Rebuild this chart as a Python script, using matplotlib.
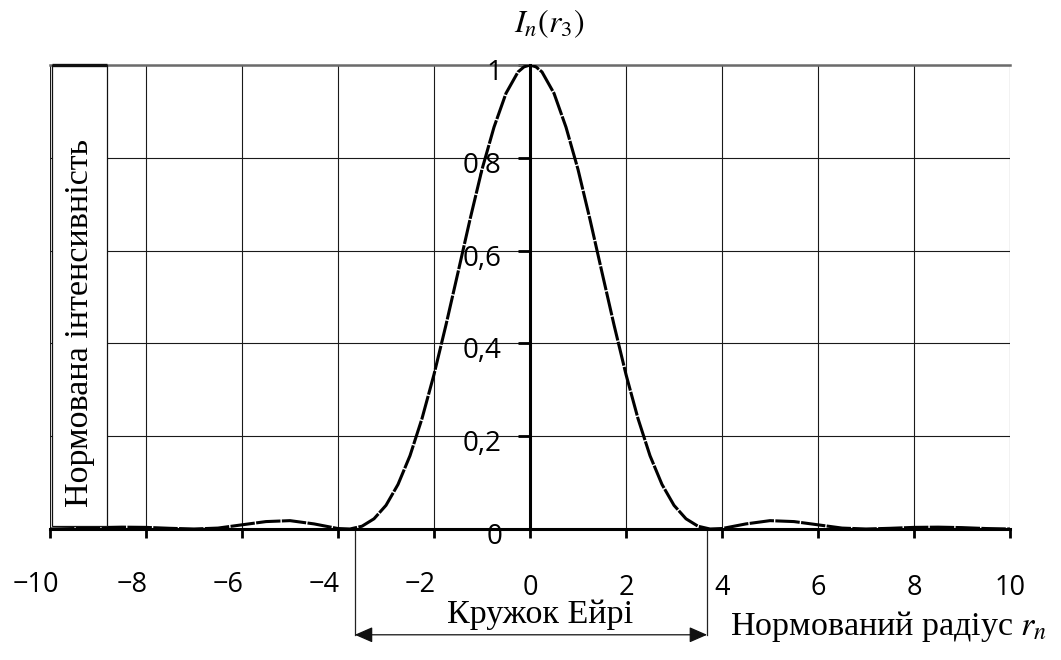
import matplotlib
matplotlib.use("Agg")
import matplotlib.pyplot as plt
from matplotlib.patches import Rectangle

plt.rcParams['mathtext.fontset'] = 'stix'

# ---- data ----
radius = [-10, -9.5, -9, -8.5, -8, -7.5, -7, -6.5, -6, -5.5, -5, -4.5, -4,
          -3.75, -3.5, -3.25, -3, -2.75, -2.5, -2.25, -2, -1.75, -1.5, -1.25,
          -1, -0.75, -0.5, -0.25, -0.125, 0,
          0.125, 0.25, 0.5, 0.75, 1, 1.25, 1.5, 1.75, 2, 2.25, 2.5, 2.75, 3,
          3.25, 3.5, 3.75, 4, 4.5, 5, 5.5, 6, 6.5, 7, 7.5, 8, 8.5, 9, 9.5, 10]
intensity = [0.000, 0.001, 0.003, 0.004, 0.0035, 0.0015, 0.000, 0.002, 0.009,
             0.016, 0.018, 0.011, 0.001,
             0.000, 0.006, 0.022, 0.051, 0.096, 0.158, 0.238, 0.333, 0.440,
             0.553, 0.667, 0.775, 0.866, 0.939, 0.985, 0.996, 1.000,
             0.996, 0.985, 0.939, 0.866, 0.775, 0.667, 0.553, 0.440, 0.333,
             0.238, 0.158, 0.096, 0.051,
             0.022, 0.006, 0.000, 0.001, 0.011, 0.018, 0.016, 0.009, 0.002,
             0.000, 0.0015, 0.0035, 0.004, 0.003, 0.001, 0.000]

x_ticks = [-10, -8, -6, -4, -2, 0, 2, 4, 6, 8, 10]
x_tick_labels = ['\u221210', '\u22128', '\u22126', '\u22124', '\u22122', '0',
                 '2', '4', '6', '8', '10']
y_ticks = [0, 0.2, 0.4, 0.6, 0.8, 1.0]
y_tick_labels = ['0', '0,2', '0,4', '0,6', '0,8', '1']

airy_left, airy_right = -3.65, 3.69

y_title = 'Нормована інтенсивність'
x_title = 'Нормований радіус $r_n$'
top_title = r'$I_n(r_3)$'
airy_label = 'Кружок Ейрі'

# ---- figure ----
W, H = 1061, 660
fig = plt.figure(figsize=(W / 100, H / 100), dpi=100)
ax = fig.add_axes([50 / W, 131 / H, 960 / W, 464 / H])
ax.set_xlim(-10, 10)
ax.set_ylim(0, 1)

ax.set_xticks(x_ticks)
ax.set_yticks(y_ticks)
ax.set_xticklabels([])
ax.set_yticklabels([])
ax.grid(True, color='#1a1a1a', linewidth=0.8, zorder=0)
ax.set_axisbelow(True)

for s in ['top', 'right']:
    ax.spines[s].set_visible(False)
ax.spines['left'].set_position(('data', 0))
ax.spines['left'].set_linewidth(2.2)
ax.spines['bottom'].set_linewidth(2.2)
ax.spines['left'].set_zorder(4)
ax.spines['bottom'].set_zorder(4)
ax.tick_params(axis='x', direction='out', length=6.5, width=2.0, color='black')
ax.tick_params(axis='y', direction='out', length=8.5, width=2.0, color='black')

# top border (grey, thicker)
ax.axhline(1.0, color='#6b6b6b', linewidth=1.8, zorder=1, clip_on=False)

# curve
ax.plot(radius, intensity, color='black', linewidth=2.2,
        linestyle=(0, (8, 0.45)), zorder=3, solid_capstyle='butt',
        solid_joinstyle='round', dash_joinstyle='round')

# y-title box (covers grid)
box_left, box_right = -9.96, -8.81
ax.add_patch(Rectangle((box_left, 0.007), box_right - box_left, 0.993,
                       facecolor='white', edgecolor='#111111', linewidth=0.9,
                       zorder=3.5, clip_on=False))
ax.plot([box_left, box_right], [1.0, 1.0], color='#111111', linewidth=2.4,
        zorder=3.6, clip_on=False, solid_capstyle='butt')
ax.text((box_left + box_right) / 2, 0.443, y_title, rotation=90,
        ha='center', va='center', fontsize=24.5, family='Liberation Serif',
        zorder=5)

# x tick labels
for v, lab in zip(x_ticks, x_tick_labels):
    dx = -14 if v < 0 else 0
    dy = -63 if v < 0 else -66
    ax.annotate(lab, xy=(v, 0), xycoords='data', xytext=(dx, dy),
                textcoords='offset pixels', ha='center', va='baseline',
                fontsize=19.5, family='Open Sans', annotation_clip=False)

# y tick labels
for v, lab in zip(y_ticks, y_tick_labels):
    ax.annotate(lab, xy=(0, v), xycoords='data', xytext=(-28, -15),
                textcoords='offset pixels', ha='right', va='baseline',
                fontsize=20, family='Open Sans', annotation_clip=False,
                zorder=6)

# Airy disk markers and arrow
arrow_y = -0.228
for xv in (airy_left, airy_right):
    ax.plot([xv, xv], [0, arrow_y], color='#222222', linewidth=0.9,
            clip_on=False, zorder=2)
ax.annotate('', xy=(airy_left, arrow_y), xytext=(airy_right, arrow_y),
            xycoords='data', annotation_clip=False,
            arrowprops=dict(arrowstyle='<|-|>,head_length=0.55,head_width=0.24',
                            mutation_scale=20, color='#111111',
                            linewidth=0.9, shrinkA=0, shrinkB=0))
ax.text(0.22, -0.203, airy_label, ha='center', va='baseline', fontsize=24.5,
        family='Liberation Serif')

# axis titles
ax.text(4.17, -0.228, x_title, ha='left', va='baseline', fontsize=24.5,
        family='Liberation Serif')
fig.text(549 / W, 1 - 32 / H, top_title, ha='center', va='baseline',
         fontsize=23)

fig.savefig('out.png', dpi=100, facecolor='white')
